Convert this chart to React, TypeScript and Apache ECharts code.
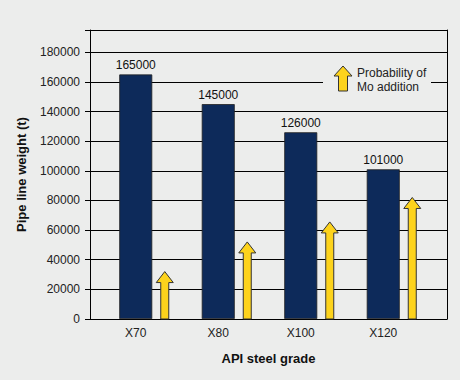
import React, { useEffect, useRef } from "react";
import * as echarts from "echarts";

const categories = ["X70", "X80", "X100", "X120"];
const pipeWeight = [165000, 145000, 126000, 101000];
const moProbability = [32000, 52000, 65500, 82000];
const yTicks = { min: 0, max: 195000, interval: 20000 };

const BG = "#ecedec";
const FONT = "Liberation Sans, Arial, sans-serif";

export default function App() {
  const ref = useRef<HTMLDivElement>(null);
  useEffect(() => {
    if (!ref.current) return;
    const chart = echarts.init(ref.current, null, { renderer: "svg" });
    const option: any = {
      animation: false,
      backgroundColor: BG,
      textStyle: { fontFamily: FONT },
      grid: [
        { left: 90, right: 13, top: 30, bottom: 61 },
        { left: 94.5, width: 330, top: 30, bottom: 61 },
      ],
      xAxis: [
        {
          gridIndex: 0,
          type: "category",
          data: categories,
          axisLine: { show: true, lineStyle: { color: "#000", width: 1 } },
          axisTick: { show: false },
          axisLabel: { show: false },
          splitLine: { show: false },
          name: "API steel grade",
          nameLocation: "middle",
          nameGap: 33,
          nameTextStyle: { fontFamily: FONT, fontWeight: "bold", fontSize: 13, color: "#111" },
        },
        {
          gridIndex: 1,
          type: "category",
          data: categories,
          axisLine: { show: false },
          axisTick: { show: false },
          axisLabel: { fontFamily: FONT, fontSize: 12, color: "#222", margin: 8 },
          splitLine: { show: false },
        },
      ],
      yAxis: [
        {
          gridIndex: 0,
          type: "value",
          min: yTicks.min,
          max: yTicks.max,
          interval: yTicks.interval,
          axisLine: { show: true, lineStyle: { color: "#000", width: 1 } },
          axisTick: { show: true, length: 5, lineStyle: { color: "#000" } },
          axisLabel: {
            fontFamily: FONT,
            fontSize: 12,
            color: "#222",
            margin: 10,
            formatter: (v: number) => (v % yTicks.interval === 0 ? String(v) : ""),
          },
          splitLine: { show: true, lineStyle: { color: "#000", width: 1 } },
          name: "Pipe line weight (t)",
          nameLocation: "middle",
          nameGap: 62,
          nameTextStyle: { fontFamily: FONT, fontWeight: "bold", fontSize: 13, color: "#111" },
        },
        {
          gridIndex: 0,
          type: "value",
          position: "right",
          min: yTicks.min,
          max: yTicks.max,
          axisLine: { show: true, lineStyle: { color: "#000", width: 1 } },
          axisTick: { show: false },
          axisLabel: { show: false },
          splitLine: { show: false },
        },
        {
          gridIndex: 1,
          type: "value",
          min: yTicks.min,
          max: yTicks.max,
          show: false,
        },
      ],
      series: [
        {
          type: "bar",
          xAxisIndex: 1,
          yAxisIndex: 2,
          data: pipeWeight,
          barWidth: 33,
          itemStyle: { color: "#0d2a5a", borderColor: "#222", borderWidth: 0.8 },
          label: {
            show: true,
            position: "top",
            distance: 3,
            fontFamily: FONT,
            fontSize: 12,
            color: "#111",
          },
          z: 3,
        },
        {
          type: "custom",
          xAxisIndex: 1,
          yAxisIndex: 2,
          data: moProbability.map((v, i) => [i, v]),
          encode: { x: 0, y: 1 },
          z: 4,
          renderItem: (params: any, api: any) => {
            const top = api.coord([api.value(0), api.value(1)]);
            const base = api.coord([api.value(0), 0]);
            const cx = top[0] + 29;
            const t = top[1];
            const hh = 11;
            return {
              type: "polygon",
              shape: {
                points: [
                  [cx, t],
                  [cx + 8.5, t + hh],
                  [cx + 4, t + hh],
                  [cx + 4, base[1]],
                  [cx - 4, base[1]],
                  [cx - 4, t + hh],
                  [cx - 8.5, t + hh],
                ],
              },
              style: { fill: "#fdd31c", stroke: "#333", lineWidth: 1 },
            };
          },
        },
      ],
      graphic: [
        {
          type: "rect",
          shape: { x: 323, y: 66, width: 108, height: 28 },
          style: { fill: BG },
          z: 10,
        },
        {
          type: "polygon",
          shape: {
            points: [
              [343, 66],
              [352, 76],
              [347.5, 76],
              [347.5, 91],
              [338.5, 91],
              [338.5, 76],
              [334, 76],
            ],
          },
          style: { fill: "#fdd31c", stroke: "#333", lineWidth: 1 },
          z: 11,
        },
        {
          type: "text",
          x: 357,
          y: 66,
          style: {
            text: "Probability of\nMo addition",
            fontFamily: FONT,
            fontSize: 12,
            lineHeight: 14,
            fill: "#222",
          },
          z: 11,
        },
      ],
    };
    chart.setOption(option);
    return () => chart.dispose();
  }, []);
  return (
    <div
      ref={ref}
      style={{ position: "absolute", left: 0, top: 0, width: 460, height: 380 }}
    />
  );
}
